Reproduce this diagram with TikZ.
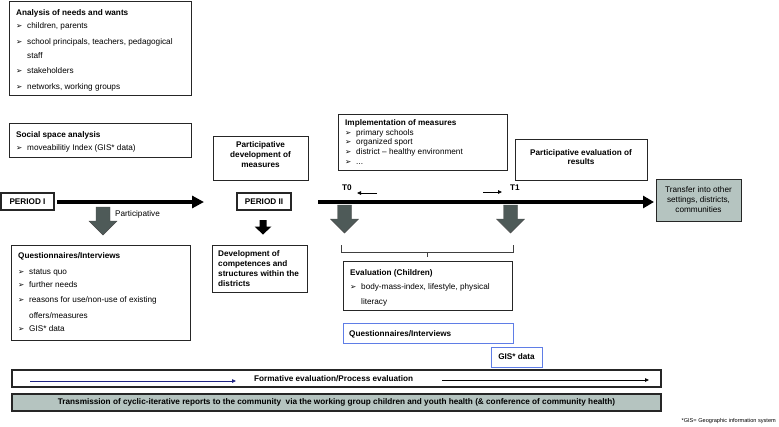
\documentclass[tikz,border=0pt]{standalone}
\usepackage{fontspec}
\setmainfont{Liberation Sans}
\newfontfamily\dejavu{DejaVu Sans}
\usetikzlibrary{arrows.meta}
\definecolor{slate}{RGB}{78,90,88}
\definecolor{sage}{RGB}{181,196,192}
\definecolor{bluebd}{RGB}{95,125,230}
\definecolor{navy}{RGB}{30,35,130}
\newcommand\bul{\makebox[11pt][l]{\dejavu\fontsize{7.5}{8}\selectfont ➢}}
\newcommand\fs{\fontsize{8.2}{9.8}\selectfont}
\begin{document}
\begin{tikzpicture}[x=1pt,y=-1pt,
 box/.style={draw=black!85, line width=0.8pt, inner sep=0pt, outer sep=0pt, anchor=north west},
 txt/.style={inner sep=0pt, anchor=west, font=\fs, text height=5.9pt, text depth=1.6pt},
 btxt/.style={txt, font=\fs\bfseries},
 cbtxt/.style={btxt, anchor=center},
 bigline/.style={line width=4.5pt, -{Triangle[length=12pt,width=12pt]}},
 thinarrow/.style={line width=0.8pt, -{Triangle[length=4pt,width=3.5pt]}},
 garrow/.pic={\fill[slate, draw=black!70, line width=0.4pt] (-7,0) -- (7,0) -- (7,14) -- (14,14) -- (0,28) -- (-14,14) -- (-7,14) -- cycle;},
 barrow/.pic={\fill[black] (-3.5,0) -- (3.5,0) -- (3.5,6.5) -- (8.5,6.5) -- (0,14.5) -- (-8.5,6.5) -- (-3.5,6.5) -- cycle;},
]
\useasboundingbox (0,0) rectangle (779,426);

% Analysis of needs and wants
\node[box, minimum width=182pt, minimum height=94pt] (boxA) at (9,1) {};
\node[btxt] (a0) at (16,13) {Analysis of needs and wants};
\node[txt] (a1) at (16,26) {\bul children, parents};
\node[txt] (a2) at (16,42) {\bul school principals, teachers, pedagogical};
\node[txt] (a3) at (27,56) {staff};
\node[txt] (a4) at (16,71) {\bul stakeholders};
\node[txt] (a5) at (16,87) {\bul networks, working groups};

% Social space analysis
\node[box, minimum width=182pt, minimum height=34pt] (boxS) at (9,123) {};
\node[btxt] (s0) at (16,135) {Social space analysis};
\node[txt] (s1) at (16,148) {\bul moveabilitiy Index (GIS* data)};

% Participative development of measures
\node[box, minimum width=95pt, minimum height=44pt] (boxPD) at (213,136) {};
\node[cbtxt] (pd1) at (260.5,145) {Participative};
\node[cbtxt] (pd2) at (260.5,155) {development of};
\node[cbtxt] (pd3) at (260.5,165) {measures};

% Periods
\node[box, line width=1.2pt, minimum width=53pt, minimum height=17pt, font=\fs\bfseries] (p1) at (1,193) {PERIOD I};
\node[box, line width=1.2pt, minimum width=54pt, minimum height=17pt, font=\fs\bfseries] (p2) at (237,193) {PERIOD II};
\coordinate (a1end) at (204,202);
\draw[bigline] ([xshift=3pt,yshift=-0.5pt]p1.east) -- (a1end);

% Transfer box
\node[box, fill=sage, minimum width=85pt, minimum height=42pt, align=center, font=\fontsize{8.2}{10}\selectfont] (tr) at (656,179) {Transfer into other\\settings, districts,\\communities};
\coordinate (l2s) at (318,202);
\draw[line width=4.5pt, -{Triangle[length=11pt,width=12pt]}, shorten >=2pt] (l2s) -- (l2s -| tr.west);

% Grey arrows
\pic at (103,207) {garrow};
\pic at (344.5,205) {garrow};
\pic at (510.5,205) {garrow};
\pic at (263,220) {barrow};
\node[txt] (plab) at (115,214) {Participative};

% Questionnaires/Interviews (period I)
\node[box, minimum width=179pt, minimum height=95pt] (boxQ) at (11,245) {};
\node[btxt] (q0) at (18,256) {Questionnaires/Interviews};
\node[txt] (q1) at (18,272) {\bul status quo};
\node[txt] (q2) at (18,285) {\bul further needs};
\node[txt] (q3) at (18,300) {\bul reasons for use/non-use of existing};
\node[txt] (q4) at (29,316) {offers/measures};
\node[txt] (q5) at (18,329) {\bul GIS* data};

% Development of competences
\node[box, minimum width=95pt, minimum height=47pt] (boxD) at (212,245) {};
\node[btxt] (d1) at (218,254) {Development of};
\node[btxt] (d2) at (218,264) {competences and};
\node[btxt] (d3) at (218,274) {structures within the};
\node[btxt] (d4) at (218,284) {districts};

% Implementation of measures
\node[box, minimum width=169pt, minimum height=56pt] (boxI) at (338,114) {};
\node[btxt] (i0) at (345,123) {Implementation of measures};
\node[txt] (i1) at (345,133) {\bul primary schools};
\node[txt] (i2) at (345,142) {\bul organized sport};
\node[txt] (i3) at (345,152) {\bul district -- healthy environment};
\node[txt] (i4) at (345,162) {\bul ...};

% T0 / T1
\node[btxt] (t0) at (342,188) {T0};
\node[btxt] (t1) at (510,188) {T1};
\coordinate (t0a) at (377,193);
\coordinate (t0b) at (357,193);
\coordinate (t1a) at (483,192);
\coordinate (t1b) at (502,192);
\draw[thinarrow] (t0a) -- (t0b);
\draw[thinarrow] (t1a) -- (t1b);

% Participative evaluation of results
\node[box, minimum width=132pt, minimum height=41pt] (boxE) at (515,139) {};
\node[cbtxt] (e1) at (581,153) {Participative evaluation of};
\node[cbtxt] (e2) at (581,162) {results};

% brace
\draw[black!75, line width=0.7pt] (341,245) |- (427,252) -- (427,257);
\draw[black!75, line width=0.7pt] (513,245) |- (427,252);

% Evaluation (Children)
\node[box, minimum width=169pt, minimum height=49pt] (boxEV) at (343,261) {};
\node[btxt] (ev0) at (350,273) {Evaluation (Children)};
\node[txt] (ev1) at (350,287) {\bul body-mass-index, lifestyle, physical};
\node[txt] (ev2) at (361,302) {literacy};

% blue boxes
\node[draw=bluebd, line width=1pt, inner sep=0pt, outer sep=0pt, anchor=north west, minimum width=170pt, minimum height=20pt] (bq) at (343,323) {};
\node[btxt] (bqt) at (349,334) {Questionnaires/Interviews};
\node[draw=bluebd, line width=1pt, inner sep=0pt, outer sep=0pt, anchor=north west, minimum width=51pt, minimum height=20pt, font=\fs\bfseries] (gis) at (491,347) {GIS* data};

% Formative evaluation bar
\node[box, line width=1.4pt, minimum width=649pt, minimum height=17pt] (form) at (12,370) {};
\node[btxt] (formt) at (254,379) {Formative evaluation/Process evaluation};
\coordinate (fa1) at (30,381);
\coordinate (fa2) at (236,381);
\coordinate (fb1) at (442,380);
\coordinate (fb2) at (649,380);
\draw[navy, thinarrow] (fa1) -- (fa2);
\draw[black, thinarrow] (fb1) -- (fb2);

% Transmission bar
\node[box, line width=1.4pt, fill=sage, minimum width=649pt, minimum height=17pt, font=\fontsize{8.2}{9.8}\selectfont\bfseries] (tm) at (12,394) {Transmission of cyclic-iterative reports to the community\ \ via the working group children and youth health (\& conference of community health)};

% footnote
\node[txt, anchor=east, font=\fontsize{5.6}{6}\selectfont] (fn) at (776,420) {*GIS= Geographic information system};
\end{tikzpicture}
\end{document}
